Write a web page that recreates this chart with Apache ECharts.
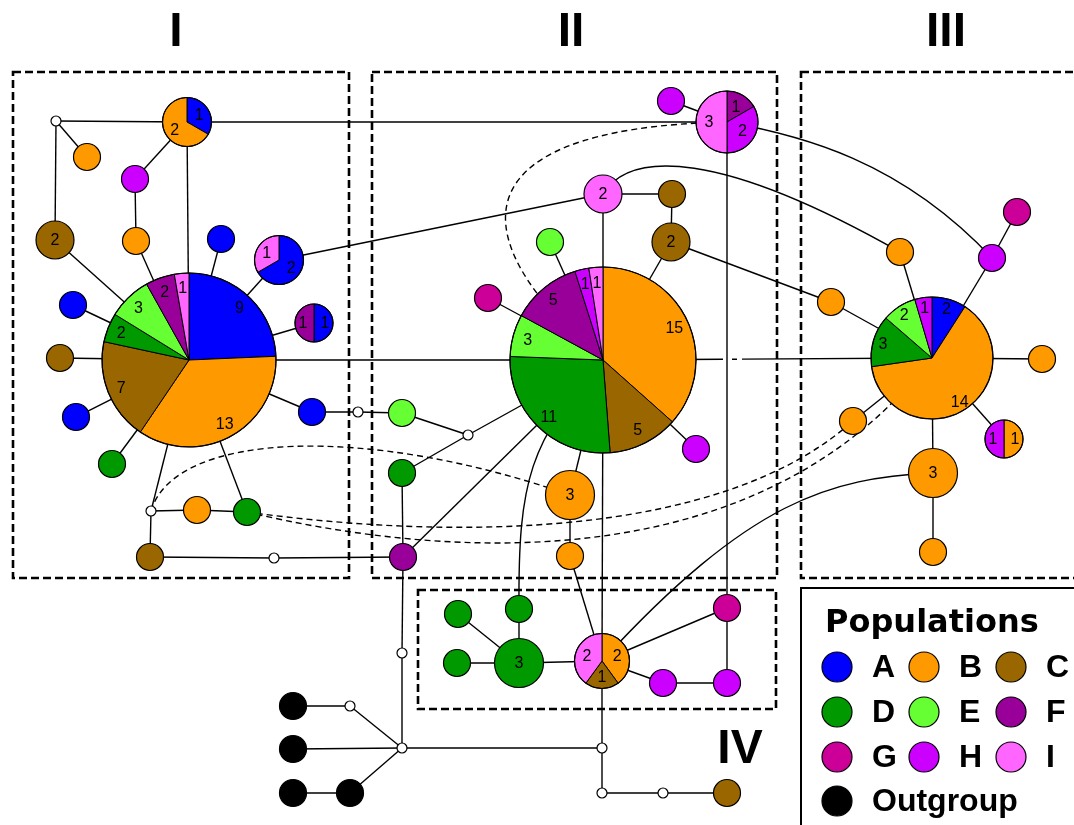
<!DOCTYPE html>
<html>
<head>
<meta charset="utf-8">
<title>Haplotype network</title>
<script src="https://cdn.jsdelivr.net/npm/echarts@6.0.0/dist/echarts.min.js"></script>
<style>
  html, body { margin: 0; padding: 0; background: #fff; }
  #chart { width: 1074px; height: 825px; }
</style>
</head>
<body>
<div id="chart"></div>
<script>
// populations
const popKeys = ['A', 'B', 'C', 'D', 'E', 'F', 'G', 'H', 'I', 'O'];
const popNames = ['A', 'B', 'C', 'D', 'E', 'F', 'G', 'H', 'I', 'Outgroup'];
const popColors = ['#0000ff', '#ff9900', '#996600', '#009900', '#66ff33', '#990099', '#cc0099', '#cc00ff', '#ff66ff', '#000000'];

// haplotypes (x / y in network layout units, composition as "pop+count")
const nodeIds = [
  'mI1', 'hAB', 'bI1', 'hI1', 'cI2', 'bI2', 'aI1', 'hAI', 'aI2', 'hAF', 'cI3', 'hubI', 'aI3', 'dI1', 'aI4', 'mI2', 'mI3', 'bI3', 'dI2', 'cI4', 'mI4',
  'hII1', 'hFHI', 'iII', 'cII1', 'cII2', 'eII1', 'gII', 'hubII', 'eII2', 'mII', 'dII', 'bII3', 'hII2', 'bII1', 'fII',
  'gIII', 'hIII', 'bIII1', 'bIII2', 'hubIII', 'bIII3', 'bIII4', 'hBH', 'bIII5', 'bIII6',
  'dIV1', 'dIV2', 'dIV3', 'dIV4', 'hBCI', 'gIV', 'hIV1', 'hIV2',
  'mO1', 'oO1', 'mO2', 'oO2', 'mO3', 'mO4', 'oO3', 'oO4', 'mO5', 'mO6', 'cO'
];
const nodeX = [
  56, 187, 87, 135, 55, 136, 221, 279, 73, 314, 60, 189, 76, 112, 312, 358, 151, 197, 247, 150, 274,
  671, 727, 603, 672, 671, 550, 488, 603, 402, 468, 402, 570, 696, 570, 403,
  1017, 992, 900, 831, 932, 1042, 853, 1004, 933, 933,
  458, 519, 457, 519, 602, 727, 663, 727,
  402, 293, 350, 293, 402, 602, 293, 350, 602, 663, 727
];
const nodeY = [
  121, 122, 157, 179, 240, 241, 239, 260, 305, 323, 358, 360, 417, 464, 412, 412, 511, 510, 512, 557, 558,
  101, 122, 194, 194, 242, 242, 298, 360, 413, 435, 473, 495, 449, 556, 557,
  212, 258, 252, 302, 358, 359, 421, 439, 473, 552,
  614, 609, 663, 663, 661, 608, 683, 683,
  653, 706, 706, 749, 748, 748, 793, 793, 793, 793, 793
];
const nodeHaps = [
  '', 'A1 B2', 'B1', 'H1', 'C2', 'B1', 'A1', 'A2 I1', 'A1', 'A1 F1', 'C1', 'A9 B13 C7 D2 E3 F2 I1', 'A1', 'D1', 'A1', '', '', 'B1', 'D1', 'C1', '',
  'H1', 'F1 H2 I3', 'I2', 'C1', 'C2', 'E1', 'G1', 'B15 C5 D11 E3 F5 H1 I1', 'E1', '', 'D1', 'B3', 'H1', 'B1', 'F1',
  'G1', 'H1', 'B1', 'B1', 'A2 B14 D3 E2 H1', 'B1', 'B1', 'B1 H1', 'B3', 'B1',
  'D1', 'D1', 'D1', 'D3', 'B2 C1 I2', 'G1', 'H1', 'H1',
  '', 'O1', '', 'O1', '', '', 'O1', 'O1', '', '', 'C1'
];

// mutational links
const links = [
  ['mI1', 'hAB'], ['hAB', 'hFHI'], ['mI1', 'bI1'], ['mI1', 'cI2'], ['hAB', 'hI1'], ['hI1', 'bI2'], ['bI2', 'hubI'],
  ['hAB', 'hubI'], ['cI2', 'hubI'], ['aI1', 'hubI'], ['hAI', 'hubI'], ['hAI', 'iII'], ['hAF', 'hubI'], ['aI2', 'hubI'],
  ['cI3', 'hubI'], ['hubI', 'hubII'], ['aI3', 'hubI'], ['dI1', 'hubI'], ['aI4', 'hubI'], ['aI4', 'mI2'], ['mI2', 'eII2'],
  ['eII2', 'mII'], ['mII', 'hubII'], ['mII', 'dII'], ['dII', 'fII'], ['fII', 'mO1'], ['mO1', 'mO3'], ['fII', 'hubII'],
  ['fII', 'mI4'], ['mI4', 'cI4'], ['cI4', 'mI3'], ['mI3', 'bI3'], ['bI3', 'dI2'], ['mI3', 'hubI'], ['dI2', 'hubI'],
  ['hubII', 'bII3'], ['bII3', 'bII1'], ['bII1', 'hBCI'], ['iII', 'hubII'], ['hubII', 'hBCI'], ['hBCI', 'mO4'], ['mO4', 'mO5'],
  ['iII', 'cII1'], ['cII1', 'cII2'], ['cII2', 'hubII'], ['cII2', 'bIII2'], ['hubII', 'hII2'], ['gII', 'hubII'], ['eII1', 'hubII'],
  ['hFHI', 'hII1'], ['hFHI', 'gIV'],
  ['bIII2', 'hubIII'], ['hIII', 'gIII'], ['hIII', 'hubIII'], ['bIII1', 'hubIII'], ['hubIII', 'bIII3'], ['hubIII', 'bIII4'],
  ['hubIII', 'hBH'], ['hubIII', 'bIII5'], ['bIII5', 'bIII6'], ['hubII', 'hubIII'],
  ['gIV', 'hIV2'], ['hIV2', 'hIV1'], ['hIV1', 'hBCI'], ['gIV', 'hBCI'], ['hBCI', 'dIV4'], ['dIV4', 'dIV2'], ['dIV4', 'dIV1'], ['dIV4', 'dIV3'],
  ['mO3', 'mO4'], ['mO3', 'oO2'], ['mO3', 'mO2'], ['mO2', 'oO1'], ['mO3', 'oO4'], ['oO4', 'oO3'], ['mO5', 'mO6'], ['mO6', 'cO']
];
// curved links: from, to, control points, dashed (alternative connection)
const curveLinks = [
  ['hFHI', 'hubII', 440, 128, 470, 250, true],
  ['mI3', 'bII3', 175, 430, 370, 425, true],
  ['dI2', 'bIII4', 450, 540, 720, 540, true],
  ['dI2', 'hubIII', 450, 560, 760, 580, true],
  ['iII', 'bIII1', 630, 150, 720, 150, false],
  ['hFHI', 'hIII', 800, 135, 900, 160, false],
  ['bIII5', 'hBCI', 830, 478, 750, 500, false],
  ['hubII', 'dIV2', 530, 440, 518, 480, false]
];

const groupNames = ['I', 'II', 'III', 'IV'];

// ---- layout / style (not data) ----
const radiusByCount = { 0: 5, 1: 13.5, 2: 19, 3: 24.5, 5: 27.5, 6: 31, 22: 61, 37: 87, 41: 93 };
const groupBoxes = [[13, 72, 349, 578], [372, 72, 777, 578], [801, 72, 1090, 578], [418, 590, 776, 709]];
const groupTitlePos = [[176, 33], [571, 33], [946, 33], [740, 750]];
const legendBox = [801, 588, 1090, 840];
const legendCols = [837, 924, 1011];
const legendRows = [667, 712, 757, 801];
const crossingDash = { 'hubII-hubIII': [120, 9, 5, 5, 400] };

const numFont = '16px "Liberation Sans", Arial, sans-serif';
const titleFont = 'bold 48px "Liberation Sans", Arial, sans-serif';
const legendFont = 'bold 32px "Liberation Sans", Arial, sans-serif';
const legendTitleFont = 'bold 32px "DejaVu Sans", Verdana, sans-serif';

const idx = {};
nodeIds.forEach((id, i) => { idx[id] = i; });

function parseHap(s) {
  return s ? s.split(' ').map(t => ({ pop: t[0], n: +t.slice(1) })) : [];
}
function colorOf(pop) {
  return popColors[popKeys.indexOf(pop)];
}
function txt(text, x, y, font, align) {
  return {
    type: 'text',
    style: {
      text: text, x: x, y: y, font: font, fill: '#000',
      align: align || 'center', verticalAlign: 'middle',
      textAlign: align || 'center', textVerticalAlign: 'middle'
    }
  };
}

// 节点：饼图 / 单色圆 / 中间向量
function renderNode(params, api) {
  const c = api.coord([api.value(0), api.value(1)]);
  const parts = parseHap(nodeHaps[params.dataIndex]);
  const total = parts.reduce((s, p) => s + p.n, 0);
  const r = radiusByCount[total];
  const children = [];
  if (!parts.length) {
    children.push({ type: 'circle', shape: { cx: c[0], cy: c[1], r: r }, style: { fill: '#fff', stroke: '#000', lineWidth: 1.2 } });
  } else if (parts.length === 1) {
    children.push({ type: 'circle', shape: { cx: c[0], cy: c[1], r: r }, style: { fill: colorOf(parts[0].pop), stroke: '#000', lineWidth: 1.2 } });
    if (total > 1) children.push(txt(String(total), c[0], c[1] + 1, numFont));
  } else {
    const labels = [];
    const lf = r > 50 ? 0.84 : 0.58;
    let a = 0;
    parts.forEach(p => {
      const a1 = a + p.n / total * 360;
      children.push({
        type: 'sector',
        shape: { cx: c[0], cy: c[1], r: r, r0: 0, startAngle: (a - 90) * Math.PI / 180, endAngle: (a1 - 90) * Math.PI / 180, clockwise: true },
        style: { fill: colorOf(p.pop), stroke: '#000', lineWidth: 1 }
      });
      const mid = (a + a1) / 2 * Math.PI / 180;
      labels.push(txt(String(p.n), c[0] + lf * r * Math.sin(mid), c[1] - lf * r * Math.cos(mid) + 1, numFont));
      a = a1;
    });
    children.push({ type: 'circle', shape: { cx: c[0], cy: c[1], r: r }, style: { fill: 'none', stroke: '#000', lineWidth: 1.2 } });
    labels.forEach(l => children.push(l));
  }
  return { type: 'group', children: children };
}

function renderLink(params, api) {
  const l = links[params.dataIndex];
  const a = api.coord([nodeX[idx[l[0]]], nodeY[idx[l[0]]]]);
  const b = api.coord([nodeX[idx[l[1]]], nodeY[idx[l[1]]]]);
  const dash = crossingDash[l[0] + '-' + l[1]];
  return {
    type: 'line',
    shape: { x1: a[0], y1: a[1], x2: b[0], y2: b[1] },
    style: { stroke: '#000', lineWidth: 1.4, lineDash: dash || null, fill: null }
  };
}

function renderCurve(params, api) {
  const l = curveLinks[params.dataIndex];
  const a = api.coord([nodeX[idx[l[0]]], nodeY[idx[l[0]]]]);
  const b = api.coord([nodeX[idx[l[1]]], nodeY[idx[l[1]]]]);
  const c1 = api.coord([l[2], l[3]]);
  const c2 = api.coord([l[4], l[5]]);
  return {
    type: 'bezierCurve',
    shape: { x1: a[0], y1: a[1], x2: b[0], y2: b[1], cpx1: c1[0], cpy1: c1[1], cpx2: c2[0], cpy2: c2[1] },
    style: { stroke: '#000', lineWidth: 1.4, fill: null, lineDash: l[6] ? [6, 4] : null }
  };
}

function renderBox(params, api) {
  const i = params.dataIndex;
  const bx = groupBoxes[i];
  const p0 = api.coord([bx[0], bx[1]]);
  const p1 = api.coord([bx[2], bx[3]]);
  const t = api.coord(groupTitlePos[i]);
  return {
    type: 'group',
    children: [
      { type: 'rect', shape: { x: p0[0], y: p0[1], width: p1[0] - p0[0], height: p1[1] - p0[1] }, style: { fill: null, stroke: '#000', lineWidth: 2.6, lineDash: [8, 4] } },
      txt(groupNames[i], t[0], t[1], titleFont)
    ]
  };
}

function renderLegend(params, api) {
  const children = [];
  const p0 = api.coord([legendBox[0], legendBox[1]]);
  const p1 = api.coord([legendBox[2], legendBox[3]]);
  children.push({ type: 'rect', shape: { x: p0[0], y: p0[1], width: p1[0] - p0[0], height: p1[1] - p0[1] }, style: { fill: '#fff', stroke: '#000', lineWidth: 2 } });
  const tp = api.coord([825, 624]);
  children.push(txt('Populations', tp[0], tp[1], legendTitleFont, 'left'));
  popNames.forEach((name, k) => {
    const col = k === 9 ? 0 : k % 3;
    const row = k === 9 ? 3 : Math.floor(k / 3);
    const p = api.coord([legendCols[col], legendRows[row]]);
    children.push({ type: 'circle', shape: { cx: p[0], cy: p[1], r: 15 }, style: { fill: popColors[k], stroke: '#000', lineWidth: 1.2 } });
    children.push(txt(name, p[0] + 35, p[1] + 1, legendFont, 'left'));
  });
  return { type: 'group', children: children };
}

const chart = echarts.init(document.getElementById('chart'));
chart.setOption({
  animation: false,
  backgroundColor: '#fff',
  grid: { left: 0, right: 0, top: 0, bottom: 0 },
  xAxis: { type: 'value', min: 0, max: 1074, show: false },
  yAxis: { type: 'value', min: 0, max: 825, inverse: true, show: false },
  series: [
    { type: 'custom', name: 'groups', z: 1, clip: false, silent: true, renderItem: renderBox, data: groupNames.map((g, i) => [groupTitlePos[i][0], groupTitlePos[i][1]]) },
    { type: 'custom', name: 'links', z: 2, clip: false, silent: true, renderItem: renderLink, data: links.map(l => [nodeX[idx[l[0]]], nodeY[idx[l[0]]]]) },
    { type: 'custom', name: 'curves', z: 2, clip: false, silent: true, renderItem: renderCurve, data: curveLinks.map(l => [nodeX[idx[l[0]]], nodeY[idx[l[0]]]]) },
    { type: 'custom', name: 'haplotypes', z: 3, clip: false, silent: true, renderItem: renderNode, data: nodeIds.map((id, i) => [nodeX[i], nodeY[i]]) },
    { type: 'custom', name: 'legend', z: 4, clip: false, silent: true, renderItem: renderLegend, data: [[900, 700]] }
  ]
});
window.addEventListener('resize', () => chart.resize());
</script>
</body>
</html>
